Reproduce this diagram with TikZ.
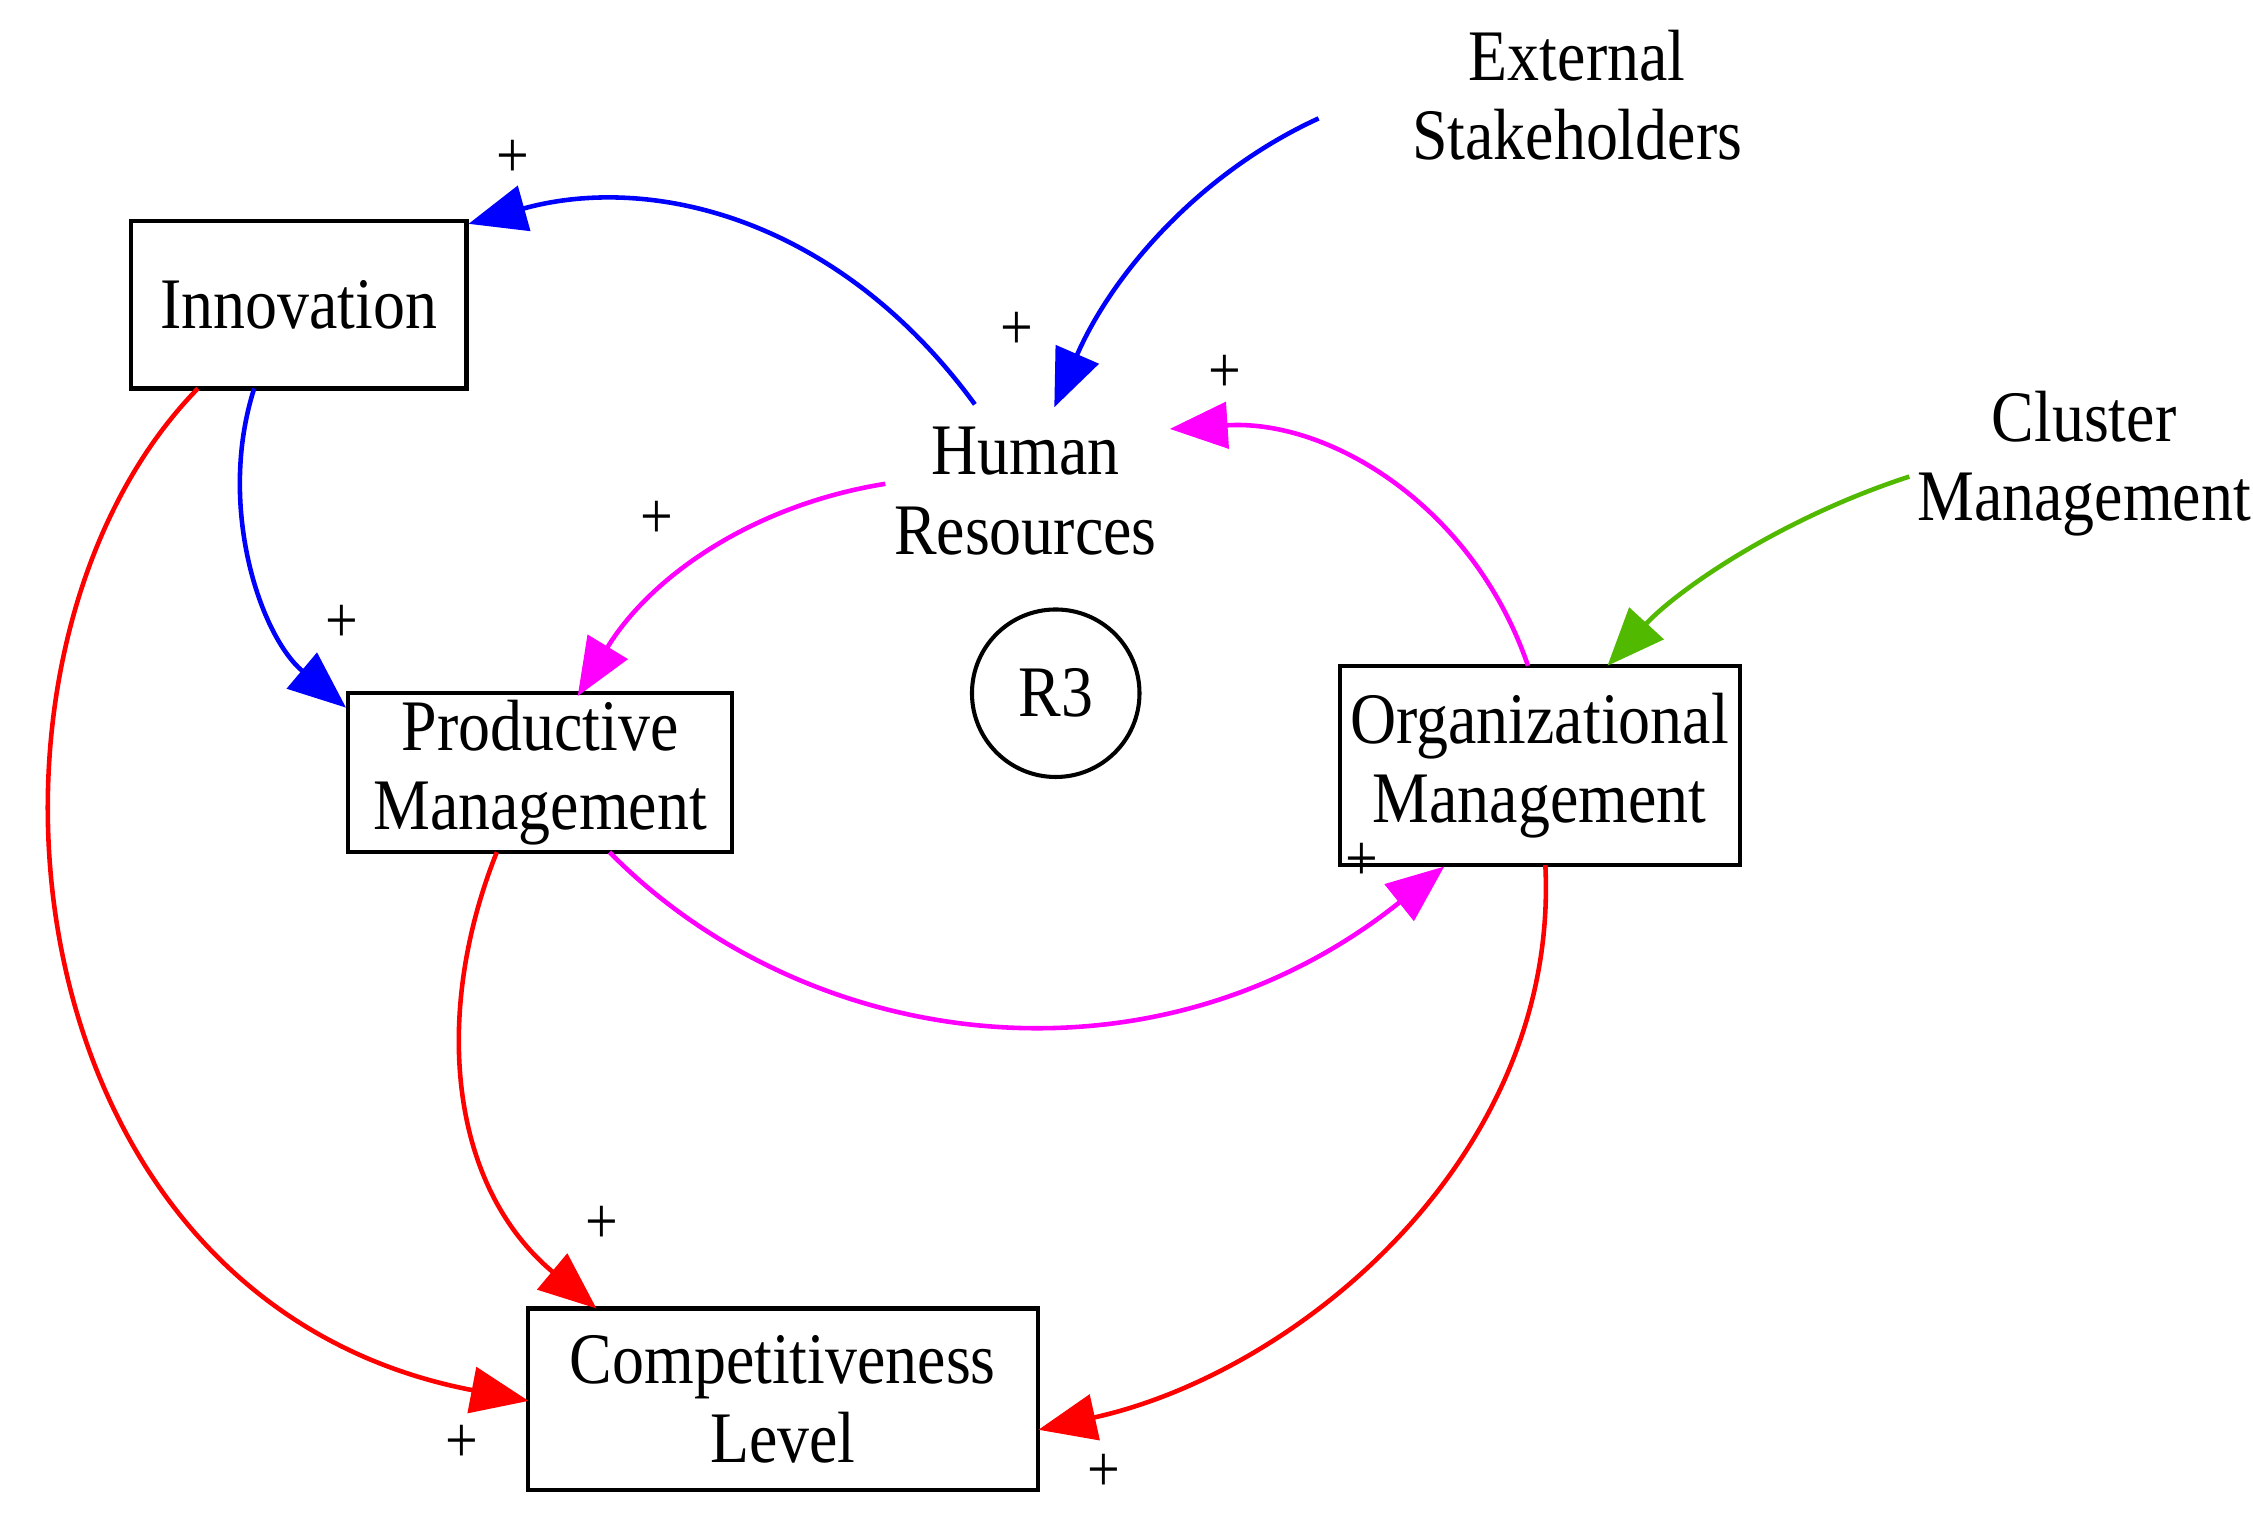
\documentclass[tikz,border=0pt]{standalone}
\usepackage{fontspec}
\setmainfont[FakeStretch=0.88]{Liberation Serif}
\usetikzlibrary{arrows.meta}
\definecolor{mag}{RGB}{255,0,255}
\definecolor{grn}{RGB}{80,185,0}
\begin{document}
\begin{tikzpicture}[x=0.1mm,y=-0.1mm,
  every node/.style={font=\fontsize{14.3}{15.6}\selectfont, align=center},
  box/.style={draw, line width=0.8pt, inner sep=0pt},
  lbl/.style={inner sep=0pt},
  pl/.style={font=\fontsize{13}{15}\selectfont, inner sep=0pt},
  link/.style={line width=0.9pt, -{Triangle[length=4mm,width=3.2mm]}}]
\useasboundingbox (0,0) rectangle (1560,1056);
\node[box, minimum width=23.2mm, minimum height=11.6mm] (inn) at (207,211) {Innovation};
\node[lbl] (hr) at (710,340) {Human\\Resources};
\node[lbl] (ext) at (1092,66) {External\\Stakeholders};
\node[lbl] (clu) at (1443,321) {Cluster\\Management};
\node[box, minimum width=26.6mm, minimum height=11mm] (prod) at (374,535) {Productive\\Management};
\node[draw, circle, line width=0.8pt, minimum size=11.6mm, inner sep=0pt] (r3) at (731,480) {R3};
\node[box, minimum width=27.7mm, minimum height=13.8mm] (org) at (1066,530) {Organizational\\Management};
\node[box, minimum width=35.3mm, minimum height=12.6mm] (comp) at (542,969) {Competitiveness\\Level};
\coordinate (hrT) at (675,280);
\coordinate (hrT2) at (730,282);
\coordinate (hrL) at (613,335);
\coordinate (hrR) at (810,297);
\coordinate (extL) at (913,82);
\coordinate (cluL) at (1322,330);
\draw[link, blue] (hrT) .. controls (580,150) and (450,120) .. (inn.north east|-0,155);
\draw[link, blue] (extL) .. controls (830,120) and (770,190) .. (hrT2);
\draw[link, blue] (176,269) .. controls (150,350) and (180,440) .. (prod.north west|-0,490);
\draw[link, mag] (hrL) .. controls (520,350) and (450,400) .. (400,482);
\draw[link, mag] (1058,461) .. controls (1020,350) and (920,290) .. (hrR);
\draw[link, grn] (cluL) .. controls (1230,360) and (1160,410) .. (1113,461);
\draw[link, mag] (422,590) .. controls (560,730) and (800,760) .. (1000,600);
\draw[link, red] (137,269) .. controls (-40,450) and (0,900) .. (366,970);
\draw[link, red] (344,590) .. controls (300,700) and (310,820) .. (413,906);
\draw[link, red] (1070,599) .. controls (1080,800) and (900,950) .. (719,990);
\node[pl] (p1) at (355,110) {+};
\node[pl] (p2) at (704,229) {+};
\node[pl] (p3) at (237,432) {+};
\node[pl] (p4) at (455,360) {+};
\node[pl] (p5) at (848,259) {+};
\node[pl] (p6) at (943,597) {+};
\node[pl] (p7) at (320,1000) {+};
\node[pl] (p8) at (417,848) {+};
\node[pl] (p9) at (764,1020) {+};
\end{tikzpicture}
\end{document}
